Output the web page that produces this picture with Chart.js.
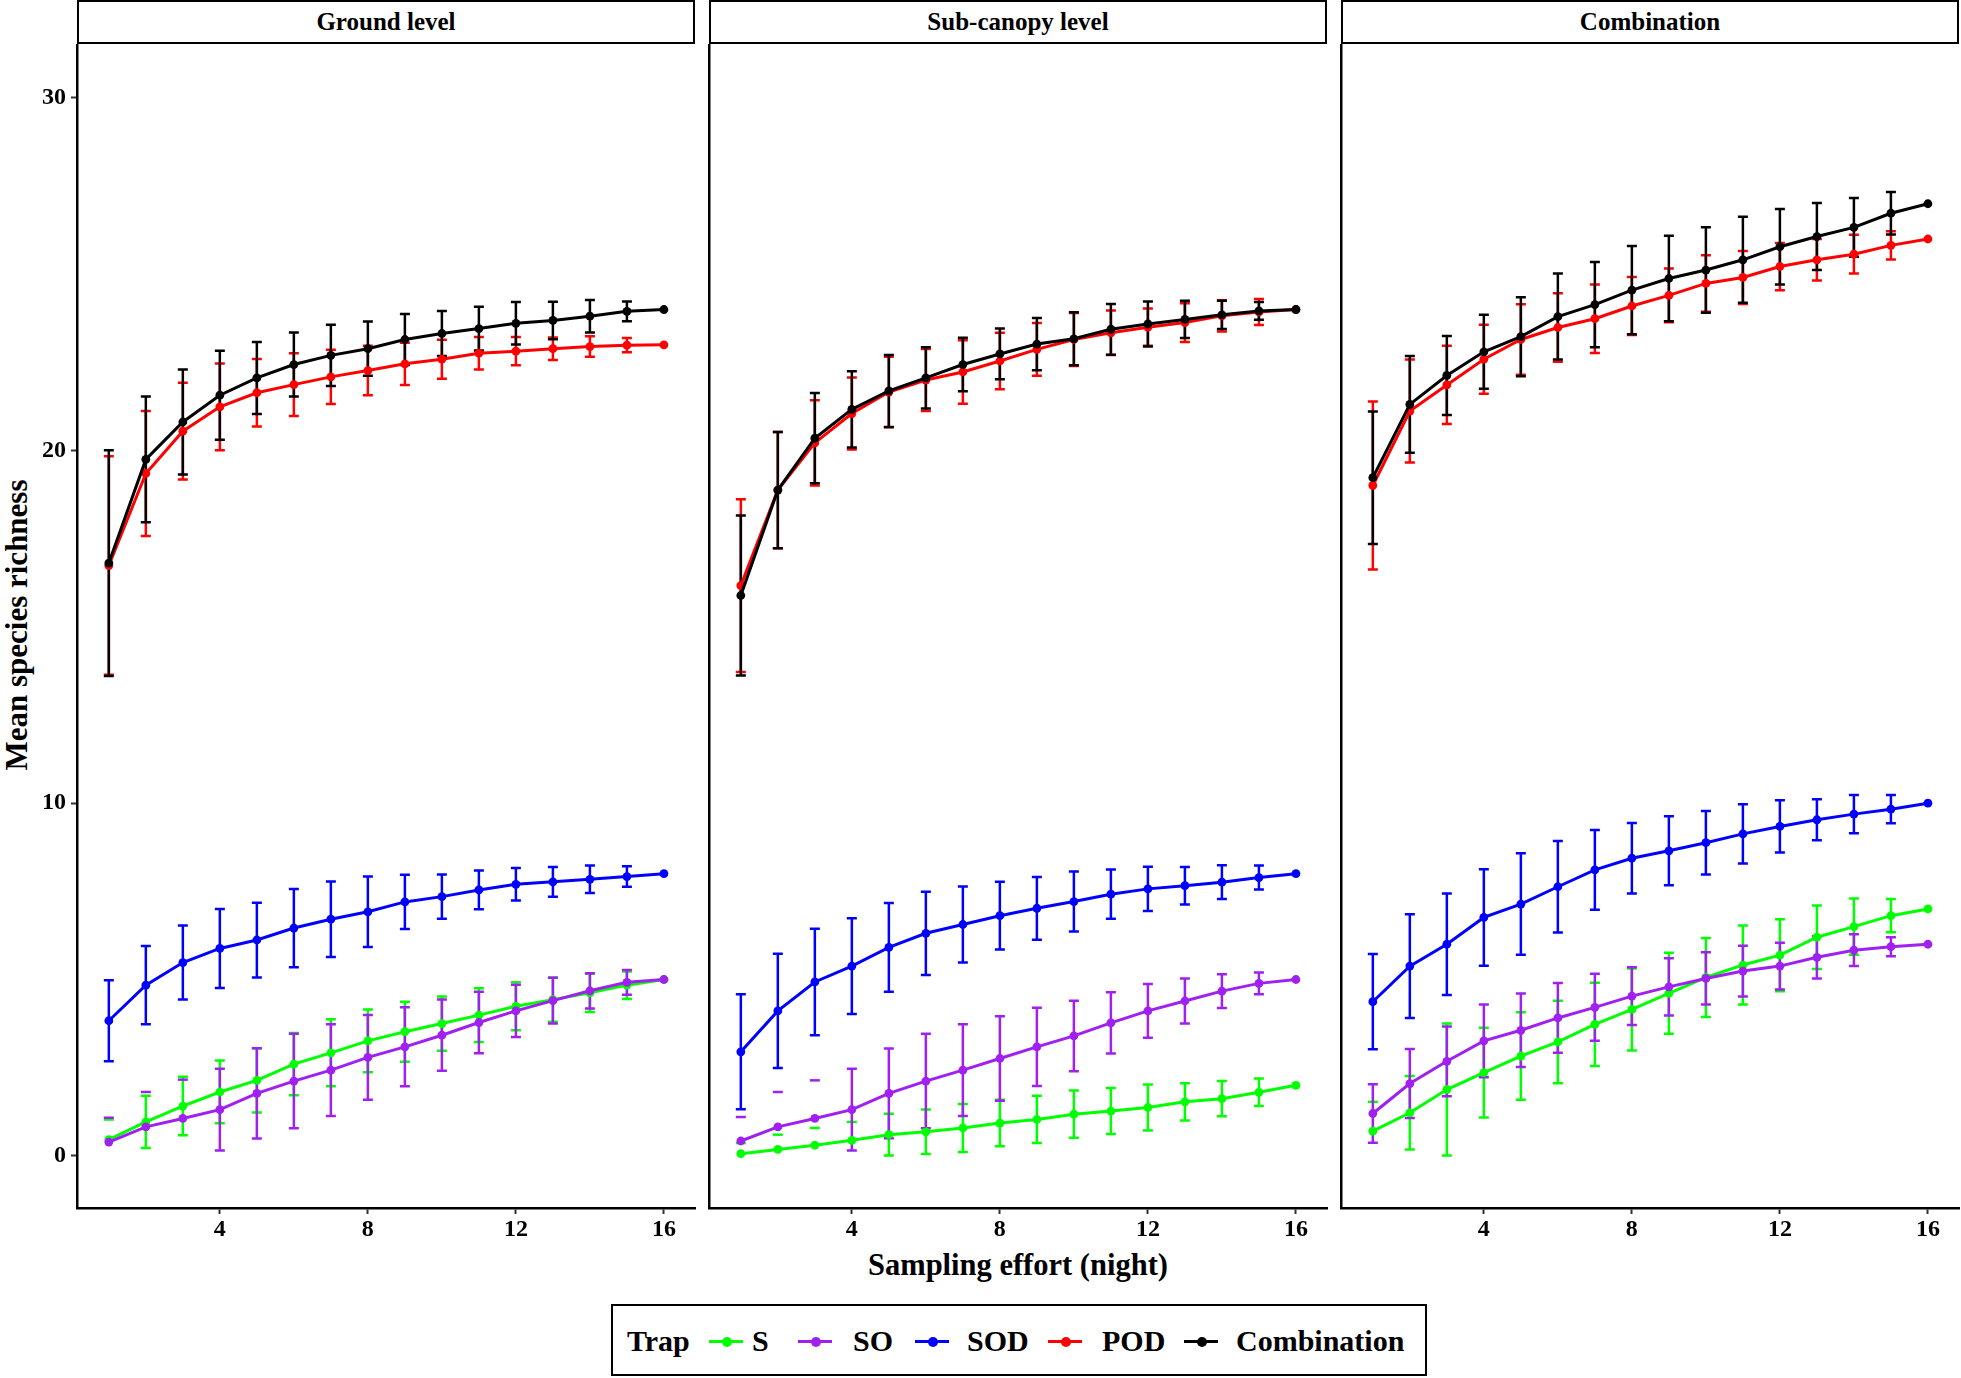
<!DOCTYPE html>
<html>
<head>
<meta charset="utf-8">
<script src="https://cdn.jsdelivr.net/npm/chart.js@4.4.0/dist/chart.umd.min.js"></script>
<style>
  body { margin:0; background:#fff; width:1961px; height:1378px; position:relative; overflow:hidden;
         font-family:"Liberation Serif","Times New Roman",serif; font-weight:bold; color:#000; }
  .strip { position:absolute; top:0; height:44px; border:2.5px solid #000; box-sizing:border-box;
           text-align:center; font-size:25px; line-height:39px; background:#fff; }
  canvas { position:absolute; }
  #ytitle { position:absolute; left:17px; top:625px; transform:translate(-50%,-50%) rotate(-90deg);
            font-size:31px; white-space:nowrap; }
  #xtitle { position:absolute; left:1018px; top:1265px; transform:translate(-50%,-50%);
            font-size:30.5px; white-space:nowrap; }
  #legend { position:absolute; left:611px; top:1304px; width:816px; height:72px;
            border:2.5px solid #000; box-sizing:border-box; }
  .lg { position:absolute; top:1321px; height:40px; line-height:40px; font-size:30px; white-space:nowrap; }
  .key { position:absolute; top:1340px; height:3px; width:34px; }
  .dot { position:absolute; top:-3.5px; left:12.5px; width:10px; height:10px; border-radius:50%; }
</style>
</head>
<body>
<div id="ytitle">Mean species richness</div>
<div id="xtitle">Sampling effort (night)</div>
<div id="legend"></div>

<script>
// ---- data ----
const nights = [1, 2, 3, 4, 5, 6, 7, 8, 9, 10, 11, 12, 13, 14, 15, 16];
const panelTitles = ['Ground level', 'Sub-canopy level', 'Combination'];
const trapNames = ['S', 'SO', 'SOD', 'POD', 'Combination'];
const trapColors = ['#00FF00', '#A020F0', '#0000FF', '#FF0000', '#000000'];
const xTicks = [4, 8, 12, 16];
const yTicks = [0, 10, 20, 30];

// Ground level
const groundS      = [0.46, 0.96, 1.41, 1.81, 2.14, 2.6, 2.92, 3.26, 3.52, 3.75, 3.99, 4.24, 4.43, 4.62, 4.84, 5.0];
const groundSErr   = [0.57, 0.74, 0.83, 0.89, 0.91, 0.88, 0.95, 0.89, 0.85, 0.77, 0.76, 0.68, 0.63, 0.54, 0.39, 0];
const groundSO     = [0.39, 0.82, 1.06, 1.31, 1.77, 2.12, 2.43, 2.79, 3.09, 3.42, 3.78, 4.11, 4.4, 4.68, 4.92, 5.0];
const groundSOErr  = [0.69, 0.99, 1.1, 1.16, 1.28, 1.34, 1.3, 1.2, 1.12, 1.01, 0.87, 0.74, 0.65, 0.5, 0.35, 0];
const groundSOD    = [3.83, 4.84, 5.48, 5.88, 6.12, 6.46, 6.71, 6.92, 7.2, 7.35, 7.54, 7.7, 7.77, 7.84, 7.92, 8.0];
const groundSODErr = [1.15, 1.11, 1.05, 1.12, 1.06, 1.11, 1.07, 1.0, 0.77, 0.63, 0.55, 0.46, 0.42, 0.39, 0.29, 0];
const groundPOD    = [16.74, 19.35, 20.55, 21.24, 21.64, 21.87, 22.09, 22.27, 22.46, 22.59, 22.76, 22.82, 22.89, 22.95, 22.99, 23.0];
const groundPODErr = [3.1, 1.77, 1.37, 1.23, 0.96, 0.89, 0.77, 0.7, 0.6, 0.55, 0.46, 0.4, 0.32, 0.29, 0.2, 0];
const groundComb   = [16.81, 19.75, 20.81, 21.57, 22.06, 22.44, 22.7, 22.89, 23.15, 23.32, 23.46, 23.61, 23.69, 23.81, 23.95, 24.0];
const groundCombErr= [3.2, 1.78, 1.49, 1.26, 1.02, 0.91, 0.87, 0.77, 0.72, 0.64, 0.62, 0.6, 0.53, 0.46, 0.28, 0];

// Sub-canopy level
const canopyS      = [0.06, 0.18, 0.3, 0.44, 0.6, 0.68, 0.79, 0.93, 1.03, 1.18, 1.27, 1.37, 1.53, 1.62, 1.8, 2.0];
const canopySErr   = [0.3, 0.42, 0.49, 0.52, 0.59, 0.63, 0.68, 0.66, 0.67, 0.67, 0.65, 0.65, 0.53, 0.5, 0.39, 0];
const canopySO     = [0.42, 0.82, 1.06, 1.31, 1.77, 2.12, 2.43, 2.76, 3.09, 3.4, 3.77, 4.11, 4.39, 4.67, 4.89, 5.0];
const canopySOErr  = [0.68, 0.99, 1.08, 1.16, 1.27, 1.34, 1.3, 1.2, 1.11, 1.0, 0.87, 0.76, 0.64, 0.48, 0.31, 0];
const canopySOD    = [2.95, 4.11, 4.93, 5.38, 5.91, 6.31, 6.56, 6.81, 7.02, 7.21, 7.42, 7.57, 7.66, 7.76, 7.89, 8.0];
const canopySODErr = [1.63, 1.62, 1.51, 1.36, 1.26, 1.18, 1.08, 0.96, 0.89, 0.85, 0.7, 0.63, 0.53, 0.48, 0.34, 0];
const canopyPOD    = [16.17, 18.88, 20.22, 21.05, 21.66, 22.0, 22.23, 22.54, 22.87, 23.15, 23.34, 23.5, 23.63, 23.82, 23.93, 24.0];
const canopyPODErr = [2.45, 1.65, 1.21, 1.02, 1.0, 0.88, 0.9, 0.8, 0.75, 0.75, 0.63, 0.53, 0.55, 0.44, 0.37, 0];
const canopyComb   = [15.89, 18.88, 20.35, 21.17, 21.69, 22.06, 22.44, 22.74, 23.02, 23.17, 23.44, 23.59, 23.72, 23.85, 23.96, 24.0];
const canopyCombErr= [2.27, 1.65, 1.28, 1.08, 1.02, 0.87, 0.76, 0.72, 0.74, 0.75, 0.72, 0.64, 0.53, 0.4, 0.25, 0];

// Combination
const combS        = [0.7, 1.22, 1.88, 2.36, 2.83, 3.23, 3.73, 4.15, 4.61, 5.06, 5.41, 5.69, 6.2, 6.5, 6.81, 7.0];
const combSErr     = [0.83, 1.04, 1.87, 1.27, 1.24, 1.17, 1.18, 1.16, 1.15, 1.12, 1.12, 1.02, 0.9, 0.8, 0.47, 0];
const combSO       = [1.2, 2.05, 2.68, 3.26, 3.56, 3.91, 4.21, 4.53, 4.79, 5.03, 5.24, 5.38, 5.63, 5.83, 5.93, 6.0];
const combSOErr    = [0.83, 0.98, 0.99, 1.03, 1.04, 0.99, 0.95, 0.82, 0.81, 0.74, 0.72, 0.66, 0.6, 0.45, 0.27, 0];
const combSOD      = [4.37, 5.38, 6.0, 6.76, 7.14, 7.63, 8.11, 8.44, 8.65, 8.88, 9.13, 9.34, 9.53, 9.69, 9.83, 10.0];
const combSODErr   = [1.35, 1.47, 1.44, 1.37, 1.44, 1.3, 1.13, 1.0, 0.98, 0.9, 0.84, 0.74, 0.58, 0.54, 0.4, 0];
const combPOD      = [19.01, 21.12, 21.86, 22.59, 23.15, 23.49, 23.74, 24.1, 24.4, 24.74, 24.91, 25.22, 25.41, 25.57, 25.82, 26.0];
const combPODErr   = [2.38, 1.46, 1.11, 0.98, 1.0, 0.97, 0.97, 0.82, 0.76, 0.8, 0.75, 0.67, 0.59, 0.55, 0.4, 0];
const combComb     = [19.23, 21.31, 22.13, 22.8, 23.23, 23.8, 24.14, 24.55, 24.88, 25.12, 25.41, 25.78, 26.07, 26.33, 26.73, 27.0];
const combCombErr  = [1.88, 1.37, 1.12, 1.05, 1.12, 1.22, 1.21, 1.25, 1.21, 1.21, 1.22, 1.07, 0.95, 0.83, 0.6, 0];

const panelMeans = [
  [groundS, groundSO, groundSOD, groundPOD, groundComb],
  [canopyS, canopySO, canopySOD, canopyPOD, canopyComb],
  [combS, combSO, combSOD, combPOD, combComb]
];
const panelErrs = [
  [groundSErr, groundSOErr, groundSODErr, groundPODErr, groundCombErr],
  [canopySErr, canopySOErr, canopySODErr, canopyPODErr, canopyCombErr],
  [combSErr, combSOErr, combSODErr, combPODErr, combCombErr]
];

// ---- layout ----
const panelLefts = [77, 709, 1341];
const panelW = 618, panelTop = 44, panelH = 1164;
const font = { family: 'Liberation Serif', size: 24, weight: 'bold' };

// error bars drawn under the lines; bars whose lower end falls below 0 keep only the top cap
function makeErrorBars(means, errs) {
  return {
    id: 'errorBars',
    beforeDatasetsDraw(chart) {
      const { ctx, scales: { x, y } } = chart;
      ctx.save();
      ctx.lineWidth = 2.5;
      means.forEach((m, k) => {
        ctx.strokeStyle = trapColors[k];
        m.forEach((v, i) => {
          const e = errs[k][i];
          if (!e) return;
          const px = x.getPixelForValue(nights[i]);
          const top = y.getPixelForValue(v + e);
          ctx.beginPath();
          ctx.moveTo(px - 5, top); ctx.lineTo(px + 5, top);
          if (v - e >= 0) {
            const bot = y.getPixelForValue(v - e);
            ctx.moveTo(px, top); ctx.lineTo(px, bot);
            ctx.moveTo(px - 5, bot); ctx.lineTo(px + 5, bot);
          }
          ctx.stroke();
        });
      });
      ctx.restore();
    }
  };
}

panelTitles.forEach((title, p) => {
  const strip = document.createElement('div');
  strip.className = 'strip';
  strip.style.left = panelLefts[p] + 'px';
  strip.style.width = panelW + 'px';
  strip.textContent = title;
  document.body.appendChild(strip);

  const yw = p === 0 ? 77 : 6;
  const cv = document.createElement('canvas');
  const cw = yw + panelW + 6, chh = panelH + 50;
  cv.width = cw; cv.height = chh;
  cv.style.width = cw + 'px'; cv.style.height = chh + 'px';
  cv.style.left = (panelLefts[p] - yw) + 'px';
  cv.style.top = panelTop + 'px';
  document.body.appendChild(cv);

  const datasets = trapNames.map((name, k) => ({
    label: name,
    data: nights.map((n, i) => ({ x: n, y: panelMeans[p][k][i] })),
    borderColor: trapColors[k],
    backgroundColor: trapColors[k],
    borderWidth: 3,
    pointRadius: 4.4,
    pointHoverRadius: 4.4,
    pointBorderWidth: 0,
    tension: 0,
    order: 5 - k
  }));

  new Chart(cv, {
    type: 'line',
    data: { datasets },
    plugins: [makeErrorBars(panelMeans[p], panelErrs[p])],
    options: {
      responsive: false,
      animation: false,
      layout: { autoPadding: false, padding: { left: 0, right: 6, top: 0, bottom: 0 } },
      plugins: { legend: { display: false }, tooltip: { enabled: false } },
      scales: {
        x: {
          type: 'linear', min: 0.14, max: 16.84,
          afterBuildTicks: s => { s.ticks = xTicks.map(v => ({ value: v })); },
          afterFit: s => { s.height = 50; s.paddingLeft = 0; s.paddingRight = 0; },
          grid: { display: true, drawOnChartArea: false, drawTicks: true, tickLength: 6, tickWidth: 2, tickColor: '#333' },
          border: { display: true, color: '#000', width: 2.5 },
          ticks: { color: '#000', font, padding: 1, maxRotation: 0, autoSkip: false }
        },
        y: {
          type: 'linear', min: -1.48, max: 31.53,
          afterBuildTicks: s => { s.ticks = yTicks.map(v => ({ value: v })); },
          afterFit: s => { s.width = yw; s.paddingTop = 0; s.paddingBottom = 0; },
          grid: { display: true, drawOnChartArea: false, drawTicks: p === 0, tickLength: 6, tickWidth: 2, tickColor: '#333' },
          border: { display: true, color: '#000', width: 2.5 },
          ticks: { display: p === 0, color: '#000', font, padding: 5 }
        }
      }
    }
  });
});

// ---- legend ----
const legendKeyLefts = [709, 798, 915, 1048, 1184];
const legendTextLefts = [752, 853, 967, 1102, 1236];
function addText(txt, left) {
  const d = document.createElement('div');
  d.className = 'lg';
  d.style.left = left + 'px';
  d.textContent = txt;
  document.body.appendChild(d);
}
addText('Trap', 627);
trapNames.forEach((name, k) => {
  const key = document.createElement('div');
  key.className = 'key';
  key.style.left = legendKeyLefts[k] + 'px';
  key.style.background = trapColors[k];
  const dot = document.createElement('div');
  dot.className = 'dot';
  dot.style.background = trapColors[k];
  key.appendChild(dot);
  document.body.appendChild(key);
  addText(name, legendTextLefts[k]);
});
</script>
</body>
</html>
